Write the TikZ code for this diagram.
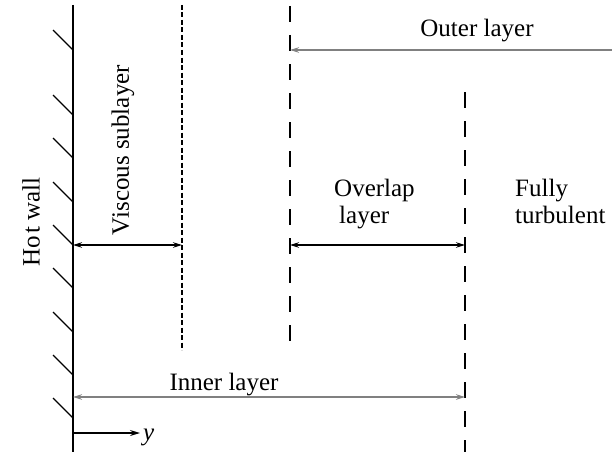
\documentclass[tikz,border=0pt]{standalone}
\usepackage{fontspec}
\setmainfont{Liberation Serif}
\usetikzlibrary{arrows.meta}
\begin{document}
\begin{tikzpicture}[x=1pt,y=-1pt,
  lbl/.style={inner sep=0pt,font=\fontsize{25}{27}\selectfont},
  wallline/.style={line width=1.5pt},
  hatch/.style={line width=1.2pt},
  dimarrow/.style={line width=1.3pt,{Stealth[length=9pt,width=5.5pt]}-{Stealth[length=9pt,width=5.5pt]}},
  grayarrow/.style={dimarrow,line width=1.6pt,draw=black!50,fill=black!70},
  fine/.style={line width=1.3pt,dash pattern=on 5pt off 2.5pt},
  coarse/.style={line width=1.5pt,dash pattern=on 16pt off 13pt}]
\useasboundingbox (0,0) rectangle (612,452);
% wall
\coordinate (wtop) at (73,5);
\coordinate (wbot) at (73,452);
\draw[wallline] (wtop) -- (wbot);
\foreach \yy in {50,115,158,202,245,288,332,375,418}
  \draw[hatch] (53,\yy-20) -- (73,\yy);
% dashed boundaries
\coordinate (v1) at (182,5);   \coordinate (v2) at (182,350);
\coordinate (o1) at (290,6);   \coordinate (o2) at (290,342);
\coordinate (i1) at (465,92);  \coordinate (i2) at (465,452);
\draw[fine] (v1) -- (v2);
\draw[coarse] (o1) -- (o2);
\draw[coarse] (i1) -- (i2);
% arrows
\coordinate (va) at (73,245);  \coordinate (vb) at (182,245);
\draw[dimarrow] (va) -- (vb);
\coordinate (oa) at (290,245); \coordinate (ob) at (465,245);
\draw[dimarrow] (oa) -- (ob);
\coordinate (outR) at (612,50); \coordinate (outL) at (290,50);
\draw[grayarrow,{Stealth[length=9pt,width=5.5pt]}-] (outL) -- (outR);
\coordinate (ina) at (73,397); \coordinate (inb) at (465,397);
\draw[grayarrow] (ina) -- (inb);
\coordinate (ya) at (73,433); \coordinate (yb) at (140,433);
\draw[line width=1.3pt,-{Stealth[length=10pt,width=6pt]}] (ya) -- (yb);
% labels
\node[lbl,anchor=base west] (ylab) at (143,440) {\textit{y}};
\node[lbl,anchor=base] (outer) at (477,37) {Outer layer};
\node[lbl,anchor=base] (inner) at (224,390) {Inner layer};
\node[lbl,anchor=base west,align=left] (overlap) at (334,223) {Overlap\\\hspace*{5pt}layer};
\node[lbl,anchor=base west,align=left] (fully) at (515,223) {Fully\\turbulent};
\node[lbl,rotate=90] (visc) at (123,150) {Viscous sublayer};
\node[lbl,rotate=90] (hot) at (31,222) {Ho\kern2pt t wall};
\end{tikzpicture}
\end{document}
